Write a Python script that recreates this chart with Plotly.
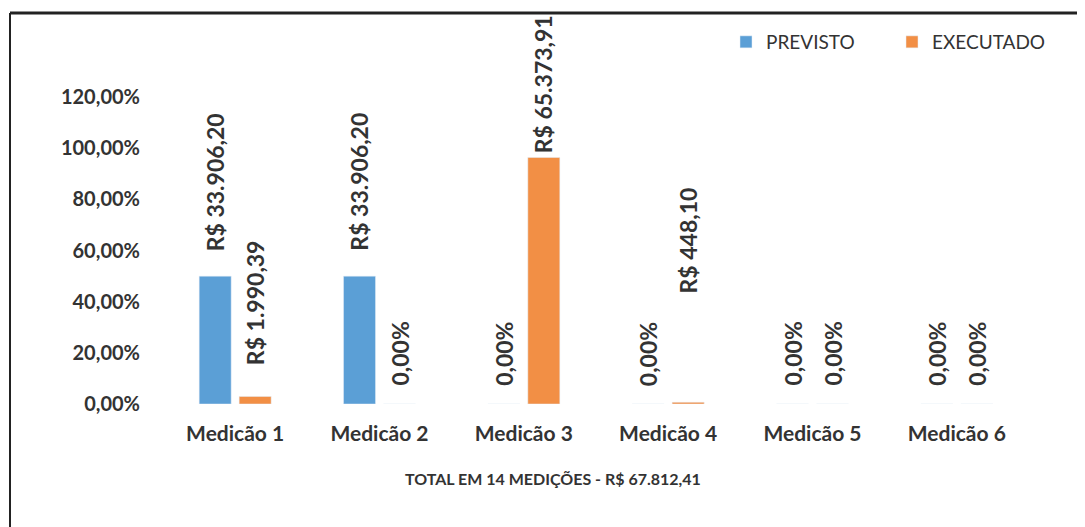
import plotly.graph_objects as go

# dados
medicoes = ["Medicão 1", "Medicão 2", "Medicão 3", "Medicão 4", "Medicão 5", "Medicão 6"]
previsto_pct = [0.50, 0.50, 0.0, 0.0, 0.0, 0.0]
executado_pct = [0.0294, 0.0, 0.9640, 0.0066, 0.0, 0.0]
previsto_txt = ["R$ 33.906,20", "R$ 33.906,20", "0,00%", "0,00%", "0,00%", "0,00%"]
executado_txt = ["R$ 1.990,39", "0,00%", "R$ 65.373,91", "R$ 448,10", "0,00%", "0,00%"]
titulo = "TOTAL EM 14 MEDIÇÕES - R$ 67.812,41"
y_ticks = [0, 0.2, 0.4, 0.6, 0.8, 1.0, 1.2]
y_ticktext = ["0,00%", "20,00%", "40,00%", "60,00%", "80,00%", "100,00%", "120,00%"]

# estilo / posicoes (pixels da pagina; a pagina tem margem de 8px no body)
OFF = 8
W, H = 1085 - OFF, 527 - OFF
ML, MR, MT, MB = 163 - OFF, 56, 46 - OFF, 123
AZUL = "#5B9FD6"
LARANJA = "#F28F45"
TXT = "#333333"
FONTE = "Lato, Carlito, sans-serif"
prev_shift = [23, 23, 16, 16, 16, 16]
exec_shift = [29, 16, 2, 107, 16, 16]
BAR_OFF = 20

pw = W - ML - MR
ph = H - MT - MB


def px_x(p):
    return (p - OFF - ML) / pw


def px_y(p):
    return (H - MB - (p - OFF)) / ph


fig = go.Figure()
fig.add_trace(go.Bar(name="PREVISTO", x=medicoes, y=previsto_pct, marker_color=AZUL))
fig.add_trace(go.Bar(name="EXECUTADO", x=medicoes, y=executado_pct, marker_color=LARANJA))

anns = []
for i, m in enumerate(medicoes):
    for val, txt, dx, sh in ((previsto_pct[i], previsto_txt[i], -BAR_OFF, prev_shift[i]),
                             (executado_pct[i], executado_txt[i], BAR_OFF, exec_shift[i])):
        anns.append(dict(x=m, y=val, xref="x", yref="y", text="<b>" + txt + "</b>", showarrow=False,
                         textangle=-90, xanchor="center", yanchor="bottom",
                         xshift=dx, yshift=sh,
                         font=dict(family=FONTE, size=23, color=TXT)))

anns.append(dict(x=px_x(553), y=px_y(478), xref="paper", yref="paper", text="<b>" + titulo + "</b>",
                 showarrow=False, xanchor="center", yanchor="middle",
                 font=dict(family=FONTE, size=16, color=TXT)))

shapes = [
    dict(type="line", xref="paper", yref="paper", x0=px_x(10), x1=px_x(1095),
         y0=px_y(13), y1=px_y(13), line=dict(color="#222222", width=3)),
    dict(type="line", xref="paper", yref="paper", x0=px_x(10), x1=px_x(10),
         y0=px_y(13), y1=px_y(535), line=dict(color="#222222", width=2)),
]

fig.update_layout(
    width=W, height=H,
    margin=dict(l=ML, r=MR, t=MT, b=MB, autoexpand=False),
    paper_bgcolor="white", plot_bgcolor="white",
    barmode="group", bargap=0.446, bargroupgap=0.2,
    font=dict(family=FONTE, color=TXT),
    showlegend=True,
    legend=dict(orientation="h", x=px_x(726), y=px_y(42), xanchor="left", yanchor="middle",
                font=dict(family=FONTE, size=19, color=TXT), entrywidth=121,
                itemwidth=30, bgcolor="rgba(0,0,0,0)"),
    annotations=anns,
    shapes=shapes,
)
fig.update_xaxes(showgrid=False, showline=False, ticks="", ticklabelstandoff=15,
                 tickfont=dict(family=FONTE, size=21, color=TXT))
fig.update_yaxes(range=[0, 1.4], tickvals=y_ticks, ticktext=["<b>%s</b>" % t for t in y_ticktext],
                 showgrid=False, zeroline=False, showline=False, ticks="",
                 ticklabelstandoff=22,
                 tickfont=dict(family=FONTE, size=20, color=TXT))
fig.update_xaxes(ticktext=["<b>%s</b>" % m for m in medicoes], tickvals=medicoes)

fig.write_html("out.html")
